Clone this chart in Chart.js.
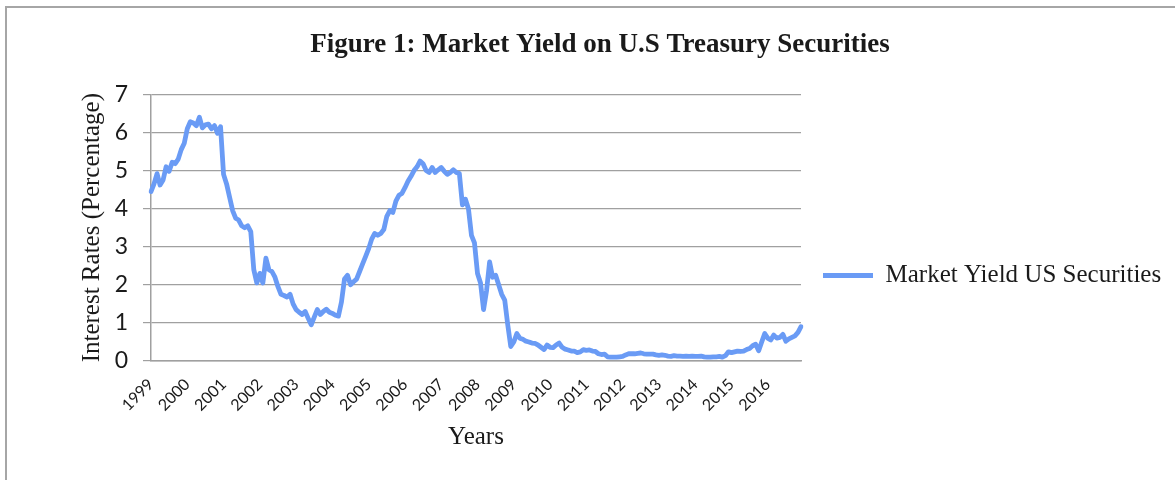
<!DOCTYPE html>
<html>
<head>
<meta charset="utf-8">
<script src="https://cdn.jsdelivr.net/npm/chart.js@4/dist/chart.umd.min.js"></script>
<style>
  html, body { margin: 0; padding: 0; background: #fff; overflow: hidden; width: 1175px; height: 480px; }
  #frame { position: absolute; left: 5px; top: 6px; width: 1186px; height: 535px; border: 2px solid #a6a6a6; background: #fff; }
  #chart { display: block; }
</style>
</head>
<body>
<div id="frame"><canvas id="chart" width="1186" height="535"></canvas></div>
<script>
// Tick labels (one per year) and month categories
const years = [1999, 2000, 2001, 2002, 2003, 2004, 2005, 2006, 2007, 2008,
               2009, 2010, 2011, 2012, 2013, 2014, 2015, 2016];
const months = ['Jan', 'Feb', 'Mar', 'Apr', 'May', 'Jun', 'Jul', 'Aug', 'Sep', 'Oct', 'Nov', 'Dec'];

// Market yield (%), one value per month, Jan 1999 .. Dec 2016
const yields = [
  4.45, 4.65, 4.92, 4.62, 4.75, 5.10, 4.98, 5.22, 5.18, 5.30, 5.55, 5.72, // 1999
  6.10, 6.28, 6.25, 6.18, 6.40, 6.12, 6.20, 6.22, 6.10, 6.18, 5.98, 6.15, // 2000
  4.90, 4.65, 4.30, 3.95, 3.75, 3.70, 3.55, 3.50, 3.55, 3.40, 2.40, 2.05, // 2001
  2.30, 2.05, 2.70, 2.40, 2.35, 2.20, 1.95, 1.75, 1.72, 1.68, 1.75, 1.50, // 2002
  1.35, 1.28, 1.22, 1.30, 1.12, 0.95, 1.15, 1.35, 1.22, 1.30, 1.36, 1.28, // 2003
  1.25, 1.20, 1.18, 1.55, 2.15, 2.25, 2.00, 2.08, 2.15, 2.35, 2.55, 2.75, // 2004
  2.95, 3.20, 3.35, 3.30, 3.35, 3.45, 3.80, 3.95, 3.90, 4.20, 4.35, 4.40, // 2005
  4.55, 4.72, 4.85, 5.00, 5.10, 5.25, 5.18, 5.00, 4.95, 5.08, 4.95, 5.02, // 2006
  5.08, 4.98, 4.90, 4.95, 5.02, 4.95, 4.92, 4.10, 4.25, 4.00, 3.30, 3.10, // 2007
  2.30, 2.05, 1.35, 1.85, 2.60, 2.20, 2.25, 2.00, 1.75, 1.60, 0.95, 0.38, // 2008
  0.50, 0.72, 0.60, 0.57, 0.52, 0.50, 0.47, 0.46, 0.42, 0.36, 0.30, 0.42, // 2009
  0.36, 0.35, 0.42, 0.47, 0.36, 0.31, 0.29, 0.26, 0.26, 0.22, 0.24, 0.30, // 2010
  0.28, 0.29, 0.26, 0.25, 0.19, 0.17, 0.18, 0.11, 0.10, 0.10, 0.10, 0.11, // 2011
  0.12, 0.16, 0.19, 0.19, 0.19, 0.20, 0.21, 0.19, 0.18, 0.18, 0.18, 0.16, // 2012
  0.15, 0.16, 0.15, 0.13, 0.12, 0.14, 0.13, 0.13, 0.12, 0.13, 0.12, 0.13, // 2013
  0.12, 0.12, 0.13, 0.11, 0.10, 0.10, 0.11, 0.11, 0.12, 0.10, 0.14, 0.24, // 2014
  0.22, 0.24, 0.26, 0.25, 0.26, 0.30, 0.33, 0.40, 0.44, 0.27, 0.50, 0.72, // 2015
  0.60, 0.55, 0.68, 0.60, 0.62, 0.70, 0.52, 0.58, 0.62, 0.66, 0.75, 0.90  // 2016
];
const yTicks = [0, 1, 2, 3, 4, 5, 6, 7];

const labels = years.flatMap(y => months.map(m => m + ' ' + y));

const lineColor = '#6a9bf5';
const gridColor = '#a0a0a0';
const serif = '"Liberation Serif", "Times New Roman", serif';
const sans = 'Lato, "Open Sans", sans-serif';

// Layout sizes (pixels)
const Y_AXIS_WIDTH = 144;
const X_AXIS_HEIGHT = 182;
const LEGEND_WIDTH = 392;

// Give the right-hand legend its full width (the layout engine caps side boxes otherwise)
const legendWidthPlugin = {
  id: 'legendWidth',
  beforeLayout(chart) {
    const lg = chart.legend;
    if (lg && !lg._fixedWidth) {
      const baseFit = lg.fit.bind(lg);
      lg.fit = function () { baseFit(); this.width = LEGEND_WIDTH; };
      lg._fixedWidth = true;
    }
  }
};

new Chart(document.getElementById('chart'), {
  type: 'line',
  plugins: [legendWidthPlugin],
  data: {
    labels: labels,
    datasets: [{
      label: 'Market Yield US Securities',
      data: yields,
      borderColor: lineColor,
      backgroundColor: lineColor,
      borderWidth: 4.8,
      borderCapStyle: 'round',
      borderJoinStyle: 'round',
      pointRadius: 0,
      pointHoverRadius: 0,
      pointStyle: 'line',
      tension: 0,
      fill: false
    }]
  },
  options: {
    responsive: false,
    animation: false,
    events: [],
    layout: { padding: 0 },
    plugins: {
      title: {
        display: true,
        text: 'Figure 1: Market Yield on U.S Treasury Securities',
        color: '#1a1a1a',
        font: { family: serif, size: 27, weight: 'bold' },
        padding: { top: 21, bottom: 33 }
      },
      legend: {
        display: true,
        position: 'right',
        align: 'center',
        labels: {
          usePointStyle: true,
          pointStyleWidth: 50,
          padding: 22,
          color: '#1a1a1a',
          font: { family: serif, size: 25 }
        }
      },
      tooltip: { enabled: false }
    },
    scales: {
      x: {
        type: 'category',
        grid: { display: false, drawTicks: false },
        border: { display: true, color: gridColor, width: 1.5 },
        ticks: {
          autoSkip: false,
          minRotation: 45,
          maxRotation: 45,
          padding: 14,
          color: '#1a1a1a',
          font: { family: sans, size: 16 },
          callback: (v, i) => (i % 12 === 0 ? String(years[i / 12]) : '')
        },
        title: {
          display: true,
          text: 'Years',
          color: '#1a1a1a',
          font: { family: serif, size: 25 },
          padding: { top: 0, bottom: 91 }
        },
        afterFit: (s) => { s.height = X_AXIS_HEIGHT; }
      },
      y: {
        min: 0,
        max: 7,
        afterBuildTicks: (s) => { s.ticks = yTicks.map(v => ({ value: v })); },
        grid: { color: gridColor, lineWidth: 1.2, tickLength: 8, drawTicks: true },
        border: { display: true, color: gridColor, width: 1.5 },
        ticks: {
          padding: 15,
          color: '#1a1a1a',
          font: { family: sans, size: 23 }
        },
        title: {
          display: true,
          text: 'Interest Rates (Percentage)',
          color: '#1a1a1a',
          font: { family: serif, size: 25 },
          padding: { top: 70, bottom: 8 }
        },
        afterFit: (s) => { s.width = Y_AXIS_WIDTH; }
      }
    }
  }
});
</script>
</body>
</html>
